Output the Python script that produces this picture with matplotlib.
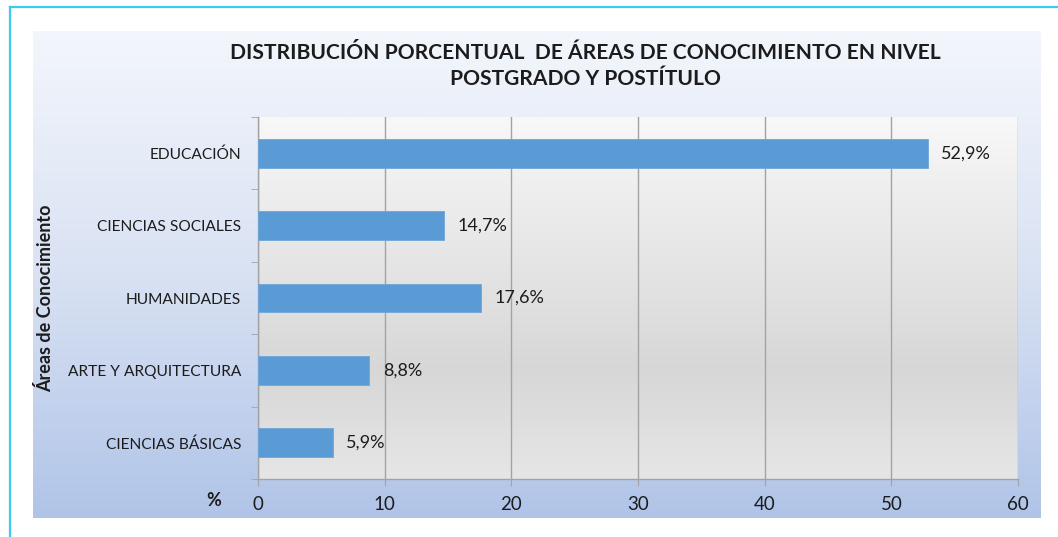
import numpy as np
import matplotlib
matplotlib.use("Agg")
import matplotlib.pyplot as plt
from matplotlib.colors import LinearSegmentedColormap
from matplotlib.lines import Line2D

categories = ["EDUCACIÓN", "CIENCIAS SOCIALES", "HUMANIDADES", "ARTE Y ARQUITECTURA", "CIENCIAS BÁSICAS"]
values = [52.9, 14.7, 17.6, 8.8, 5.9]
value_labels = ["52,9%", "14,7%", "17,6%", "8,8%", "5,9%"]
x_ticks = [0, 10, 20, 30, 40, 50, 60]
title = "DISTRIBUCIÓN PORCENTUAL  DE ÁREAS DE CONOCIMIENTO EN NIVEL\nPOSTGRADO Y POSTÍTULO"
ylabel = "Áreas de Conocimiento"
xlabel = "%"

FONT = ["Lato", "DejaVu Sans"]
plt.rcParams["font.family"] = FONT
TXT = "#1c1c1c"

W, H = 1058, 537
fig = plt.figure(figsize=(W / 100, H / 100), dpi=100)
fig.patch.set_facecolor("white")

# chart-area gradient background
bg = fig.add_axes([33 / W, 1 - 518 / H, (1041 - 33) / W, (518 - 31) / H], zorder=0)
bg_cmap = LinearSegmentedColormap.from_list("bg", ["#f3f6fc", "#d9e2f3", "#b0c4e8"])
bg.imshow(np.linspace(0, 1, 256).reshape(-1, 1), aspect="auto", cmap=bg_cmap,
          extent=[0, 1, 0, 1], origin="upper")
bg.set_axis_off()

# outer border lines (left and top)
fig.add_artist(Line2D([10 / W, 10 / W], [0, 1 - 7 / H], color="#3ccbf0", lw=1.6, transform=fig.transFigure))
fig.add_artist(Line2D([10 / W, 1], [1 - 7 / H, 1 - 7 / H], color="#3ccbf0", lw=1.6, transform=fig.transFigure))

ax = fig.add_axes([258 / W, 1 - 479 / H, (1018 - 258) / W, (479 - 117) / H], zorder=2)
ax.patch.set_alpha(0)
pa_cmap = LinearSegmentedColormap.from_list("pa", [(0, "#f8f8f8"), (0.7, "#d7d7d7"), (1.0, "#e6e6e6")])
ax.imshow(np.linspace(0, 1, 256).reshape(-1, 1), aspect="auto", cmap=pa_cmap,
          extent=[0, 60, -0.5, 4.5], origin="upper", zorder=0)

ypos = np.arange(len(categories))[::-1]
ax.barh(ypos, values, height=0.4, color="#5b9bd5", edgecolor="#6ea6d9", linewidth=0.6, zorder=3)
for y, v, lab in zip(ypos, values, value_labels):
    ax.annotate(lab, xy=(v, y), xytext=(9.5, 0), textcoords="offset points",
                va="center", ha="left", fontsize=13, color=TXT, zorder=4)

ax.set_xlim(0, 60)
ax.set_ylim(-0.5, 4.5)
ax.set_xticks(x_ticks)
ax.set_xticklabels([str(t) for t in x_ticks], fontsize=13.5, color=TXT)
ax.xaxis.grid(True, color="#a3a3a3", lw=1.0, zorder=1)
ax.set_axisbelow(True)

ax.set_yticks(ypos)
ax.set_yticklabels(categories, fontsize=11.2, color=TXT)
ax.set_yticks(np.arange(-0.5, 4.6, 1.0), minor=True)
ax.tick_params(axis="y", which="major", length=0, pad=12)
ax.tick_params(axis="y", which="minor", length=5, color="#a3a3a3", direction="out")
ax.tick_params(axis="x", which="major", length=5, color="#a3a3a3", direction="out", pad=7)

for s in ["top", "right"]:
    ax.spines[s].set_visible(False)
for s in ["left", "bottom"]:
    ax.spines[s].set_color("#a3a3a3")
    ax.spines[s].set_linewidth(1.0)

ax.set_ylabel(ylabel, fontsize=13, fontweight="bold", color=TXT, labelpad=0)
ax.yaxis.set_label_coords(-(258 - 45) / (1018 - 258), 0.5)
ax.yaxis.label.set_va("center")

fig.text(214 / W, 1 - 501 / H, xlabel, fontsize=13, fontweight="bold", color=TXT, ha="center", va="center")

fig.text(585 / W, 1 - 66 / H, title, fontsize=15.1, fontweight="bold", color=TXT,
         ha="center", va="center", linespacing=1.35)

fig.savefig("out.png", dpi=100, facecolor="white")
